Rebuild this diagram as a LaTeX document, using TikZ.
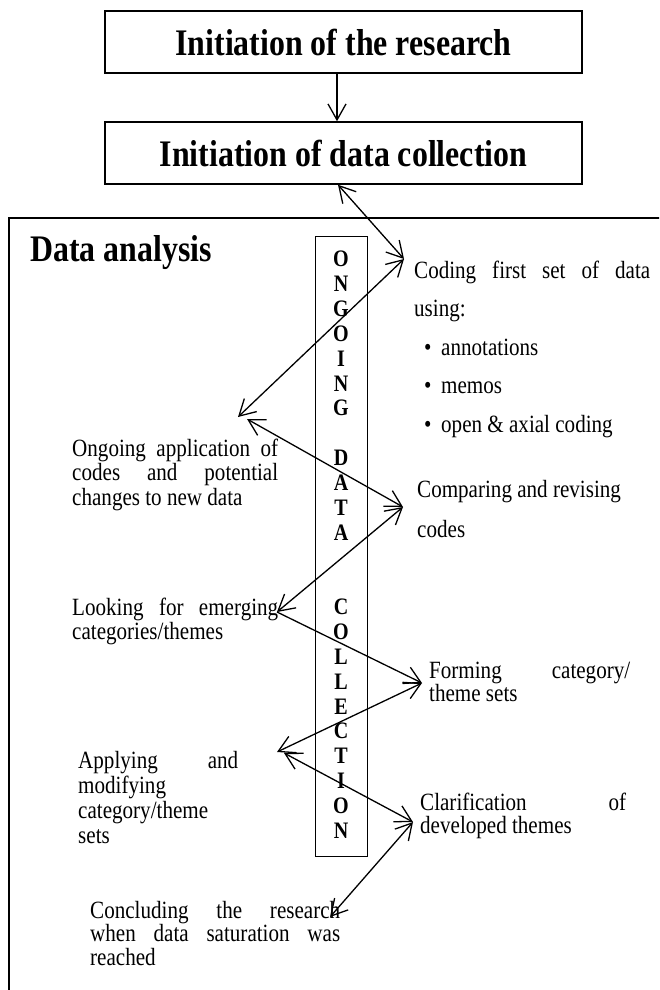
\documentclass[tikz,border=0pt]{standalone}
\usepackage{fontspec}
% tall, slightly condensed Times-like face
\setmainfont[FakeStretch=0.85]{Liberation Serif}
\usetikzlibrary{arrows.meta}

% one line stretched to a given width (in pt), and one line at natural width
\newcommand{\justline}[2]{\hbox to #1pt{#2}}
\newcommand{\plainline}[1]{\hbox{#1}}
% a block of lines with its own baseline distance
\newcommand{\lineblock}[2]{\vtop{\baselineskip=#1pt #2}}
% bulleted line
\newcommand{\bulletline}[1]{\hbox{\hbox to 27pt{\hspace*{10pt}\textbullet\hss}#1}}
% one centred letter of the vertical label
\newcommand{\colletter}[1]{\hbox to 30pt{\hss#1\hss}}

\begin{document}
\begin{tikzpicture}[x=1pt,y=-1pt,
  titlebox/.style={draw, line width=1.5pt, minimum width=477pt, minimum height=62pt,
    inner sep=0pt, font=\fontsize{37.5}{44}\selectfont\bfseries},
  txt/.style={inner sep=0pt, anchor=base west, font=\fontsize{24.8}{28}\selectfont},
  frame/.style={line width=2pt},
  zig/.style={line width=1.3pt, <->},
  >={Straight Barb[length=16pt,width=18pt]}]

\useasboundingbox (0,0) rectangle (659,990);
\clip (0,0) rectangle (659,990);

% outer frame of the analysis stage (runs off the page right and bottom)
\draw[frame] (9,1000) -- (9,218) -- (670,218);

% top stages
\node[titlebox] (box1) at (343.5,42) {Initiation of the research};
\node[titlebox] (box2) at (343.5,153) {Initiation of data collection};
\coordinate (s0) at (337,0);
\draw[line width=1.3pt, ->] (box1.south -| s0) -- (box2.north -| s0);

\node[anchor=base west, inner sep=0pt, font=\fontsize{37.5}{44}\selectfont\bfseries]
  (dahead) at (30,261) {Data analysis};

% vertical label
\node[draw, line width=1pt, minimum width=52pt, minimum height=620pt, inner sep=0pt]
  (colbox) at (341,546) {};
\node[anchor=base, inner sep=0pt, font=\fontsize{23.6}{28}\selectfont\bfseries]
  (colword) at (341,266.8) {\vtop{\baselineskip=24.85pt
    \colletter{O}\colletter{N}\colletter{G}\colletter{O}\colletter{I}\colletter{N}\colletter{G}
    \hbox{}
    \colletter{D}\colletter{A}\colletter{T}\colletter{A}
    \hbox{}\hbox{}
    \colletter{C}\colletter{O}\colletter{L}\colletter{L}\colletter{E}\colletter{C}\colletter{T}\colletter{I}\colletter{O}\colletter{N}}};

% steps on the right
\node[txt] (coding) at (414,278) {\lineblock{38.5}{%
  \justline{236}{Coding first set of data}%
  \plainline{using:}%
  \bulletline{annotations}%
  \bulletline{memos}%
  \bulletline{open \& axial coding}}};
\node[txt] (comparing) at (417,497) {\lineblock{40}{%
  \plainline{Comparing and revising}%
  \plainline{codes}}};
\node[txt] (forming) at (429,678) {\lineblock{22.5}{%
  \justline{201}{Forming category/}%
  \plainline{theme sets}}};
\node[txt] (clarify) at (420,810) {\lineblock{23.5}{%
  \justline{206}{Clarification of}%
  \plainline{developed themes}}};

% steps on the left
\node[txt] (ongoing) at (72,456) {\lineblock{24.5}{%
  \justline{206}{Ongoing application of}%
  \justline{206}{codes and potential}%
  \plainline{changes to new data}}};
\node[txt] (looking) at (72,615) {\lineblock{24}{%
  \justline{206}{Looking for emerging}%
  \plainline{categories/themes}}};
\node[txt] (applying) at (78,768) {\lineblock{25}{%
  \justline{160}{Applying and}%
  \plainline{modifying}%
  \plainline{category/theme}%
  \plainline{sets}}};
\node[txt] (concluding) at (90,918) {\lineblock{23.5}{%
  \justline{250}{Concluding the research}%
  \justline{250}{when data saturation was}%
  \plainline{reached}}};

% turning points of the zigzag
\coordinate (s1) at (338,0);
\coordinate (p1) at (404,259);
\coordinate (p2) at (238,417);
\coordinate (p2b) at (247,419);
\coordinate (p3) at (403,507);
\coordinate (p4) at (277,612);
\coordinate (p5) at (422,683);
\coordinate (p6) at (277,752);
\coordinate (p6b) at (284,753);
\coordinate (p7) at (413,822);
\coordinate (p8) at (330,917);

\draw[zig] (box2.south -| s1) -- (p1);
\draw[zig] (p1) -- (p2);
\draw[zig] (p2b) -- (p3);
\draw[zig] (p3) -- (p4);
\draw[line width=1.3pt, ->] (p4) -- (p5);
\draw[zig] (p5) -- (p6);
\draw[zig] (p6b) -- (p7);
\draw[zig] (p7) -- (p8);
\end{tikzpicture}
\end{document}
